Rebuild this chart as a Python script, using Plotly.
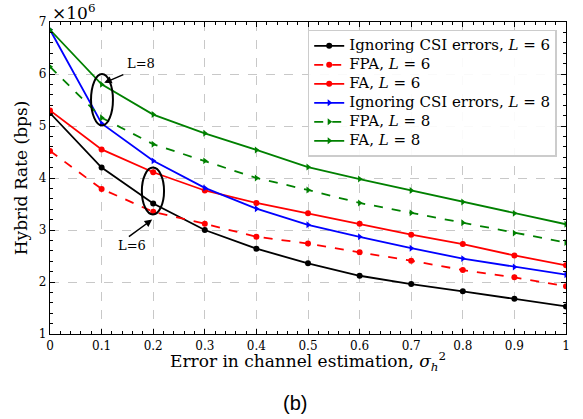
import plotly.graph_objects as go

x = [0, 0.1, 0.2, 0.3, 0.4, 0.5, 0.6, 0.7, 0.8, 0.9, 1.0]
ign6 = [5.25, 4.20, 3.51, 3.00, 2.64, 2.36, 2.12, 1.96, 1.82, 1.68, 1.53]
fpa6 = [4.52, 3.79, 3.35, 3.12, 2.87, 2.74, 2.57, 2.41, 2.23, 2.09, 1.92]
fa6 = [5.30, 4.55, 4.11, 3.76, 3.52, 3.32, 3.12, 2.91, 2.73, 2.51, 2.32]
ign8 = [6.85, 5.05, 4.33, 3.81, 3.41, 3.10, 2.87, 2.65, 2.45, 2.29, 2.14]
fpa8 = [6.14, 5.16, 4.65, 4.33, 4.00, 3.77, 3.52, 3.33, 3.14, 2.94, 2.76]
fa8 = [6.85, 5.80, 5.22, 4.86, 4.54, 4.21, 3.98, 3.76, 3.54, 3.32, 3.11]

series = [
    ("Ignoring CSI errors, <i>L</i> = 6", ign6, "black", "solid", "circle"),
    ("FPA, <i>L</i> = 6", fpa6, "red", "dash", "circle"),
    ("FA, <i>L</i> = 6", fa6, "red", "solid", "circle"),
    ("Ignoring CSI errors, <i>L</i> = 8", ign8, "blue", "solid", "triangle-right"),
    ("FPA, <i>L</i> = 8", fpa8, "green", "dash", "triangle-right"),
    ("FA, <i>L</i> = 8", fa8, "green", "solid", "triangle-right"),
]

SERIF = "DejaVu Serif"
fig = go.Figure()
for name, ys, col, dash, sym in series:
    fig.add_trace(go.Scatter(
        x=x, y=[v * 1e6 for v in ys], mode="lines+markers",
        name='<span style="font-size:15px">' + name + "</span>",
        line=dict(color=col, width=1.8, dash=dash),
        marker=dict(symbol=sym, size=6, color=col),
    ))

axis_common = dict(
    showline=True, linecolor="black", linewidth=1.2, mirror="ticks",
    ticks="inside", ticklen=5, tickwidth=1, tickcolor="black",
    showgrid=True, gridcolor="#c8c8c8", griddash="dash", gridwidth=0.8,
    zeroline=False, tickfont=dict(family=SERIF, size=12, color="black"),
    automargin=False,
)
fig.update_xaxes(
    range=[0, 1],
    tickvals=[0, 0.1, 0.2, 0.3, 0.4, 0.5, 0.6, 0.7, 0.8, 0.9, 1],
    ticktext=["0", "0.1", "0.2", "0.3", "0.4", "0.5", "0.6", "0.7", "0.8", "0.9", "1"],
    minor=dict(dtick=0.02, ticks="inside", ticklen=3, tickcolor="black", showgrid=False),
    **axis_common,
)
fig.update_yaxes(
    range=[1e6, 7e6],
    tickvals=[1e6, 2e6, 3e6, 4e6, 5e6, 6e6, 7e6],
    ticktext=["1", "2", "3", "4", "5", "6", "7"],
    minor=dict(dtick=2e5, ticks="inside", ticklen=3, tickcolor="black", showgrid=False),
    title=dict(text="Hybrid Rate (bps)", font=dict(family=SERIF, size=17, color="black"), standoff=6),
    **axis_common,
)

shapes = [
    dict(type="circle", xref="x", yref="y", x0=0.0795, x1=0.122, y0=5.01e6, y1=6.0e6,
         line=dict(color="black", width=2)),
    dict(type="circle", xref="x", yref="y", x0=0.178, x1=0.221, y0=3.30e6, y1=4.20e6,
         line=dict(color="black", width=2)),
]

annotations = [
    dict(x=0.105, y=5.83e6, ax=0.145, ay=6.0e6, xref="x", yref="y", axref="x", ayref="y",
         text="", showarrow=True, arrowhead=2, arrowsize=1, arrowwidth=1.5, arrowcolor="black"),
    dict(x=0.177, y=6.2e6, xref="x", yref="y", text="L=8", showarrow=False,
         font=dict(family=SERIF, size=13, color="black")),
    dict(x=0.198, y=3.2e6, ax=0.15, ay=2.85e6, xref="x", yref="y", axref="x", ayref="y",
         text="", showarrow=True, arrowhead=2, arrowsize=1, arrowwidth=1.5, arrowcolor="black"),
    dict(x=0.158, y=2.7e6, xref="x", yref="y", text="L=6", showarrow=False,
         font=dict(family=SERIF, size=13, color="black")),
    dict(x=0, y=1.0, xref="paper", yref="paper", xanchor="left", yanchor="bottom", yshift=-3,
         text="×10<sup>6</sup>", showarrow=False, font=dict(family=SERIF, size=17, color="black")),
    dict(x=0.5, y=0, xref="paper", yref="paper", yshift=-27, xanchor="center", yanchor="middle",
         text="Error in channel estimation, <i>σ</i><sub><i>h</i></sub><sup>2</sup>", showarrow=False,
         font=dict(family=SERIF, size=17, color="black")),
    dict(x=0.475, y=0, xref="paper", yref="paper", yshift=-69, xanchor="center", yanchor="middle",
         text="(b)", showarrow=False, font=dict(family="Liberation Sans", size=20, color="black")),
]

fig.update_layout(
    width=583, height=419,
    margin=dict(l=50, r=17, t=22, b=85),
    paper_bgcolor="white", plot_bgcolor="white",
    shapes=shapes, annotations=annotations,
    legend=dict(x=0.982, y=0.975, xanchor="right", yanchor="top",
                bgcolor="rgba(255,255,255,0.9)", bordercolor="#cccccc", borderwidth=1.5,
                font=dict(family=SERIF, size=12, color="black"), tracegroupgap=0,
                itemwidth=30),
    showlegend=True,
)

fig.write_html("out.html", config={"displayModeBar": False},
               post_script="document.body.style.margin='0';")
